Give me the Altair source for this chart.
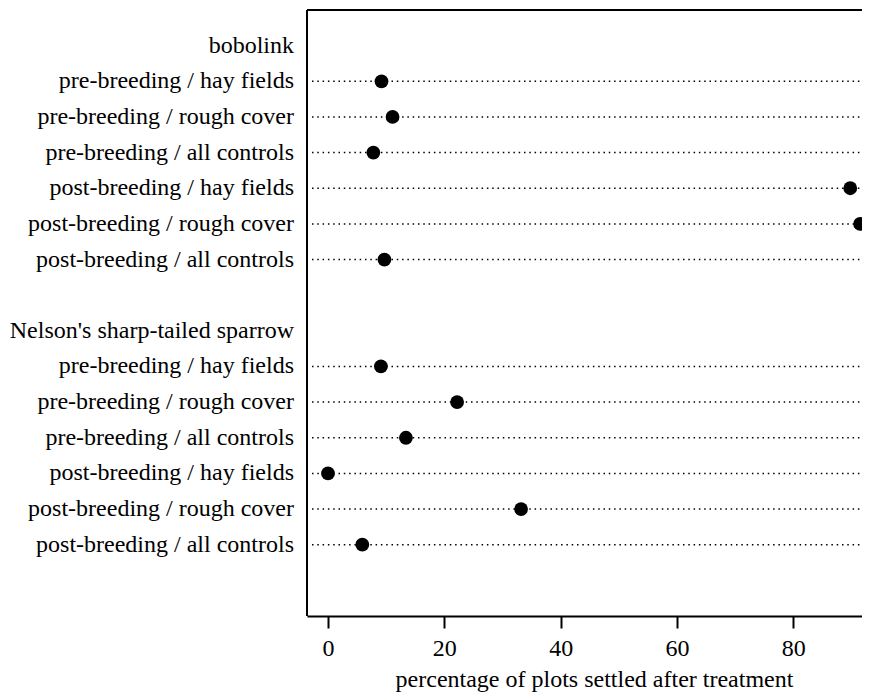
import altair as alt
import pandas as pd

groups = ["bobolink", "Nelson's sharp-tailed sparrow"]
row_labels = [
    "pre-breeding / hay fields",
    "pre-breeding / rough cover",
    "pre-breeding / all controls",
    "post-breeding / hay fields",
    "post-breeding / rough cover",
    "post-breeding / all controls",
]
bobolink_values = [9.2, 11.1, 7.8, 89.8, 91.5, 9.7]
sparrow_values = [9.1, 22.2, 13.4, 0.0, 33.2, 5.9]
x_ticks = [0, 20, 40, 60, 80]
x_title = "percentage of plots settled after treatment"

FONT = "Liberation Serif"
FS = 24

# R dotchart style layout: rows counted from bottom, group header above its rows, one blank slot between groups
rows = []
labels = []
pos = 1
for g, vals in reversed(list(zip(groups, [bobolink_values, sparrow_values]))):
    for lab, v in reversed(list(zip(row_labels, vals))):
        rows.append({"pos": pos, "label": lab, "value": v})
        labels.append({"pos": pos, "label": lab})
        pos += 1
    labels.append({"pos": pos, "label": g})
    pos += 2

df = pd.DataFrame(rows)
lab_df = pd.DataFrame(labels)

W, H = 555, 606
xscale = alt.Scale(domain=[-3.61, 91.82], nice=False, zero=False)
yscale = alt.Scale(domain=[-1, 16], nice=False, zero=False)

base = alt.Chart(df)

dotted = base.mark_rule(color="black", strokeWidth=1.5, strokeDash=[1.5, 3.8]).encode(
    y=alt.Y("pos:Q", scale=yscale, axis=None),
    x=alt.value(5),
    x2=alt.value(W),
)

points = base.mark_point(filled=True, shape="circle", size=190, color="black", opacity=1).encode(
    x=alt.X("value:Q", scale=xscale,
            axis=alt.Axis(values=x_ticks, title=x_title, grid=False,
                          domainColor="black", domainWidth=2,
                          tickColor="black", tickWidth=2, tickSize=12,
                          labelFont=FONT, labelFontSize=FS, labelColor="black",
                          labelBaseline="alphabetic", labelPadding=27, labelFlush=False,
                          titleFont=FONT, titleFontSize=FS, titleColor="black",
                          titleFontWeight="normal", titleBaseline="alphabetic",
                          titleAlign="center", titleAnchor="start",
                          titleX=287, titleY=70)),
    y=alt.Y("pos:Q", scale=yscale, axis=None),
)

texts = alt.Chart(lab_df).mark_text(align="right", baseline="middle", font=FONT,
                                     fontSize=FS, color="black").encode(
    y=alt.Y("pos:Q", scale=yscale, axis=None),
    x=alt.value(-13),
    text="label:N",
)

frame_top = alt.Chart(df).mark_rule(color="black", strokeWidth=2).encode(
    x=alt.value(0), x2=alt.value(W), y=alt.value(0)
)
frame_left = alt.Chart(df).mark_rule(color="black", strokeWidth=2).encode(
    x=alt.value(0), y=alt.value(0), y2=alt.value(H)
)

chart = alt.layer(dotted, points, texts, frame_top, frame_left).properties(
    width=W, height=H,
    autosize=alt.AutoSizeParams(type="none"),
    padding={"left": 299, "top": 2, "right": 0, "bottom": 76},
).configure_view(stroke=None).configure(background="white")

chart.save("out.html", embed_options={"renderer": "svg", "actions": False})
